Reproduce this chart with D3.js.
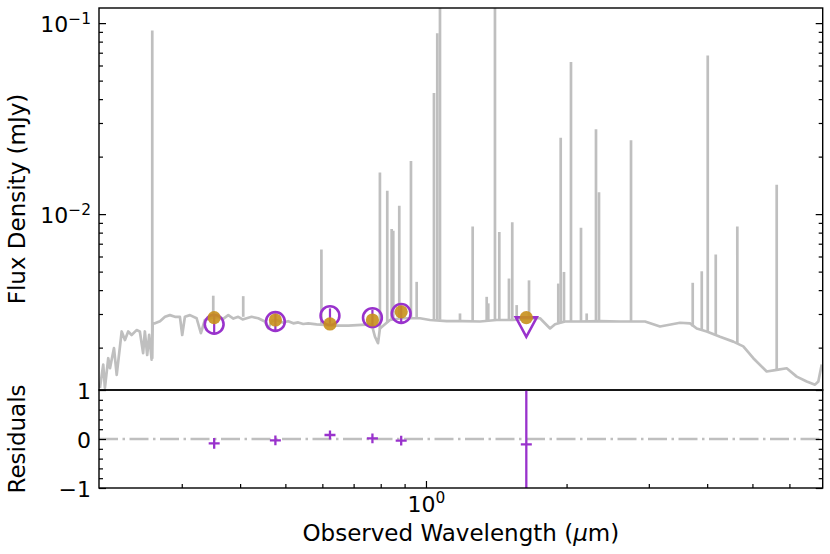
<!DOCTYPE html>
<html>
<head>
<meta charset="utf-8">
<script src="https://cdnjs.cloudflare.com/ajax/libs/d3/7.8.5/d3.min.js"></script>
<style>
body { margin: 0; background: #fff; }
svg text { font-family: "DejaVu Sans", sans-serif; fill: #000; }
</style>
</head>
<body>
<div id="sed-chart"></div>
<script>
// model spectrum continuum, wavelength (um) and flux (mJy)
var contWave = [0.2004, 0.2037, 0.2054, 0.2088, 0.2106, 0.2148, 0.2177, 0.2231, 0.2267, 0.2304,
	0.2343, 0.2401, 0.2440, 0.2480, 0.2501, 0.2530, 0.2555, 0.2586, 0.2600, 0.2629,
	0.2695, 0.2762, 0.2830, 0.2901, 0.2973, 0.3007, 0.3047, 0.3124, 0.3228, 0.3297,
	0.3362, 0.3470, 0.3590, 0.3680, 0.3773, 0.3870, 0.3963, 0.4050, 0.4131, 0.4234,
	0.4374, 0.4520, 0.4595, 0.4680, 0.4790, 0.4930, 0.5072, 0.5200, 0.5327, 0.5460,
	0.5597, 0.5833, 0.6076, 0.6383, 0.6820, 0.7284, 0.7651, 0.7777, 0.7895, 0.7969,
	0.8374, 0.8839, 0.9379, 0.9708, 1.0199, 1.1074, 1.2002, 1.3051, 1.4170, 1.5360,
	1.7262, 1.7545, 1.8437, 1.8896, 1.9852, 2.1372, 2.3588, 2.6029, 2.9444, 3.1700,
	3.4994, 3.6761, 3.7996, 3.9918, 4.2617, 4.5500, 4.7797, 5.0216, 5.3642, 5.6355,
	5.9206, 6.2199, 6.5345, 6.8074, 6.9190, 7.0360];
var contFlux = [0.00123, 0.00163, 0.00123, 0.00176, 0.00156, 0.00199, 0.00144, 0.00243, 0.00219, 0.00243,
	0.00233, 0.00247, 0.00243, 0.00187, 0.00243, 0.00183, 0.00233, 0.00173, 0.00268, 0.00268,
	0.00275, 0.00290, 0.00296, 0.00290, 0.00290, 0.00233, 0.00290, 0.00296, 0.00285, 0.00238,
	0.00279, 0.00286, 0.00290, 0.00283, 0.00296, 0.00284, 0.00290, 0.00281, 0.00285, 0.00290,
	0.00285, 0.00274, 0.00252, 0.00276, 0.00279, 0.00271, 0.00275, 0.00268, 0.00271, 0.00266,
	0.00268, 0.00265, 0.00263, 0.00261, 0.00261, 0.00263, 0.00265, 0.00228, 0.00211, 0.00252,
	0.00279, 0.00285, 0.00285, 0.00285, 0.00279, 0.00275, 0.00275, 0.00274, 0.00279, 0.00279,
	0.00285, 0.00285, 0.00252, 0.00265, 0.00274, 0.00274, 0.00275, 0.00274, 0.00274, 0.00258,
	0.00270, 0.00268, 0.00252, 0.00243, 0.00228, 0.00215, 0.00203, 0.00176, 0.00150, 0.00153,
	0.00156, 0.00141, 0.00133, 0.00128, 0.00133, 0.00163];

// emission lines of the model spectrum
var lineWave = [0.2594, 0.3504, 0.4062, 0.5972, 0.7969, 0.8263, 0.8444, 0.8511, 0.8767, 0.9287,
	0.9552, 1.0402, 1.0573, 1.0715, 1.1826, 1.2589, 1.3490, 1.3597, 1.4051, 1.4355,
	1.5055, 1.5302, 1.5640, 1.6620, 1.9200, 1.9429, 1.9746, 2.0440, 2.1474, 2.2086,
	2.3122, 2.3466, 2.7480, 3.7250, 3.8946, 4.0113, 4.1727, 4.6411, 5.6355];
var linePeak = [0.0914, 0.00374, 0.00372, 0.00653, 0.0165, 0.01326, 0.00837, 0.00818, 0.01107, 0.0190,
	0.00442, 0.0431, 0.0886, 0.25, 0.00302, 0.00861, 0.00369, 0.00341, 0.25, 0.00805,
	0.0046, 0.00908, 0.00334, 0.0045, 0.00433, 0.0251, 0.00498, 0.0626, 0.00848, 0.00302,
	0.0278, 0.0130, 0.0244, 0.00437, 0.00502, 0.0677, 0.00615, 0.00861, 0.01424];
var lineBase = [0.00175, 0.0029, 0.0029, 0.00263, 0.0025, 0.0027, 0.0028, 0.0028, 0.00285, 0.00285,
	0.00285, 0.0028, 0.0028, 0.0028, 0.00275, 0.00275, 0.00275, 0.00275, 0.00278, 0.00278,
	0.00279, 0.00279, 0.0028, 0.0028, 0.0027, 0.0027, 0.00274, 0.00274, 0.00274, 0.00274,
	0.00275, 0.00275, 0.00274, 0.00258, 0.00245, 0.00243, 0.00235, 0.0021, 0.00153];

// observed photometry
var photWave = [0.352, 0.476, 0.623, 0.768, 0.885];
var photFlux = [0.00265, 0.00274, 0.00294, 0.00287, 0.00302];
var photErr = [0.00028, 0.00028, 0.00027, 0.00029, 0.00030];

// upper limit
var limitWave = [1.64];
var limitFlux = [0.00257];

// model photometry
var modelWave = [0.352, 0.476, 0.623, 0.768, 0.885, 1.64];
var modelFlux = [0.00287, 0.00279, 0.00266, 0.00279, 0.00308, 0.00287];

// residuals
var residVal = [-0.088, -0.027, 0.082, 0.014, -0.035, -0.108];
var residErr = [0.11, 0.10, 0.09, 0.10, 0.10, 5];

// ticks
var xMajor = [1];
var xMajorExp = ["0"];
var xMinor = [0.3, 0.4, 0.5, 0.6, 0.7, 0.8, 0.9, 2, 3, 4, 5, 6];
var yMajor = [0.01, 0.1];
var yMajorExp = ["\u22122", "\u22121"];
var yMinor = [0.002, 0.003, 0.004, 0.005, 0.006, 0.007, 0.008, 0.009,
	0.02, 0.03, 0.04, 0.05, 0.06, 0.07, 0.08, 0.09];
var rMajor = [-1, 0, 1];
var rMajorLabels = ["\u22121", "0", "1"];
var rMinor = [-0.8, -0.6, -0.4, -0.2, 0.2, 0.4, 0.6, 0.8];

// colours
var specColor = "#bfbfbf";
var obsColor = "#9932cc";
var modelColor = "#c8901c";

// size
var margin = { left: 99, top: 8 };
var width = 723.7;
var topHeight = 382;
var resHeight = 98;
var tickFont = 22;

var svg = d3.select("#sed-chart")
	.append("svg")
	.attr("width", 830)
	.attr("height", 554);

var defs = svg.append("defs");
defs.append("clipPath").attr("id", "clip-top")
	.append("rect").attr("width", width).attr("height", topHeight);
defs.append("clipPath").attr("id", "clip-res")
	.append("rect").attr("width", width).attr("height", resHeight);

// scales
var x = d3.scaleLog()
	.domain([0.1995, 7.07])
	.range([0, width]);

var y = d3.scaleLog()
	.domain([0.0012, 0.12])
	.range([topHeight, 0]);

var yRes = d3.scaleLinear()
	.domain([-1, 1])
	.range([resHeight, 0]);

// top panel
var gTop = svg.append("g")
	.attr("transform", "translate(" + margin.left + "," + margin.top + ")");

var plotTop = gTop.append("g").attr("clip-path", "url(#clip-top)");

var spec = contWave.map(function(d, i){ return [d, contFlux[i]]; });

plotTop.append("path")
	.datum(spec)
	.attr("fill", "none")
	.attr("stroke", specColor)
	.attr("stroke-width", 2.7)
	.attr("stroke-linejoin", "round")
	.attr("d", d3.line()
		.x(function(d){ return x(d[0]); })
		.y(function(d){ return y(d[1]); }));

plotTop.selectAll(".eline")
	.data(lineWave)
	.enter()
	.append("line")
		.attr("class", "eline")
		.attr("x1", function(d){ return x(d); })
		.attr("x2", function(d){ return x(d); })
		.attr("y1", function(d, i){ return y(lineBase[i]); })
		.attr("y2", function(d, i){ return y(linePeak[i]); })
		.attr("stroke", specColor)
		.attr("stroke-width", 2.7);

// observed error bars and circles
plotTop.selectAll(".obs-err")
	.data(photWave)
	.enter()
	.append("line")
		.attr("class", "obs-err")
		.attr("x1", function(d){ return x(d); })
		.attr("x2", function(d){ return x(d); })
		.attr("y1", function(d, i){ return y(photFlux[i] - photErr[i]); })
		.attr("y2", function(d, i){ return y(photFlux[i] + photErr[i]); })
		.attr("stroke", obsColor)
		.attr("stroke-width", 2.2);

plotTop.selectAll(".obs")
	.data(photWave)
	.enter()
	.append("circle")
		.attr("class", "obs")
		.attr("cx", function(d){ return x(d); })
		.attr("cy", function(d, i){ return y(photFlux[i]); })
		.attr("r", 9.4)
		.attr("fill", "none")
		.attr("stroke", obsColor)
		.attr("stroke-width", 2.6);

plotTop.selectAll(".limit")
	.data(limitWave)
	.enter()
	.append("path")
		.attr("class", "limit")
		.attr("transform", function(d, i){
			return "translate(" + x(d) + "," + y(limitFlux[i]) + ")";
		})
		.attr("d", "M-10.5,-9.5L10.5,-9.5L0,10Z")
		.attr("fill", "none")
		.attr("stroke", obsColor)
		.attr("stroke-width", 2.6)
		.attr("stroke-linejoin", "miter");

// model photometry
plotTop.selectAll(".model")
	.data(modelWave)
	.enter()
	.append("circle")
		.attr("class", "model")
		.attr("cx", function(d){ return x(d); })
		.attr("cy", function(d, i){ return y(modelFlux[i]); })
		.attr("r", 6.6)
		.attr("fill", modelColor)
		.attr("fill-opacity", 0.9);

// residual panel
var gRes = svg.append("g")
	.attr("transform", "translate(" + margin.left + "," + (margin.top + topHeight) + ")");

var plotRes = gRes.append("g").attr("clip-path", "url(#clip-res)");

plotRes.append("line")
	.attr("x1", 0)
	.attr("x2", width)
	.attr("y1", yRes(0))
	.attr("y2", yRes(0))
	.attr("stroke", specColor)
	.attr("stroke-width", 2.6)
	.attr("stroke-dasharray", "19,4.5,2.5,4.5");

plotRes.selectAll(".res-err")
	.data(modelWave)
	.enter()
	.append("line")
		.attr("class", "res-err")
		.attr("x1", function(d){ return x(d); })
		.attr("x2", function(d){ return x(d); })
		.attr("y1", function(d, i){ return yRes(residVal[i] - residErr[i]); })
		.attr("y2", function(d, i){ return yRes(residVal[i] + residErr[i]); })
		.attr("stroke", obsColor)
		.attr("stroke-width", 2.3);

plotRes.selectAll(".res")
	.data(modelWave)
	.enter()
	.append("line")
		.attr("class", "res")
		.attr("x1", function(d){ return x(d) - 5.5; })
		.attr("x2", function(d){ return x(d) + 5.5; })
		.attr("y1", function(d, i){ return yRes(residVal[i]); })
		.attr("y2", function(d, i){ return yRes(residVal[i]); })
		.attr("stroke", obsColor)
		.attr("stroke-width", 2.3);

// axes
function styleAxis(sel){
	sel.select(".domain").remove();
	sel.selectAll(".tick line").attr("stroke", "#000").attr("stroke-width", 1.2);
	sel.selectAll("text").attr("font-size", tickFont + "px").attr("fill", "#000");
}

function supLabels(sel, exps){
	sel.selectAll(".tick text").each(function(d, i){
		var t = d3.select(this);
		t.text(null);
		t.append("tspan").text("10");
		t.append("tspan").attr("dy", "-0.55em").attr("font-size", (tickFont * 0.7) + "px").text(exps[i]);
	});
}

// top panel y axes
gTop.append("g")
	.call(d3.axisLeft(y).tickValues(yMajor).tickSize(-7).tickPadding(8).tickFormat(function(){ return ""; }))
	.call(styleAxis)
	.call(supLabels, yMajorExp)
	.selectAll(".tick text").attr("dy", "0.38em");

gTop.append("g")
	.call(d3.axisLeft(y).tickValues(yMinor).tickSize(-4).tickFormat(""))
	.call(styleAxis);

gTop.append("g")
	.attr("transform", "translate(" + width + ",0)")
	.call(d3.axisRight(y).tickValues(yMajor).tickSize(-7).tickFormat(""))
	.call(styleAxis);

gTop.append("g")
	.attr("transform", "translate(" + width + ",0)")
	.call(d3.axisRight(y).tickValues(yMinor).tickSize(-4).tickFormat(""))
	.call(styleAxis);

// residual y axes
gRes.append("g")
	.call(d3.axisLeft(yRes).tickValues(rMajor).tickSize(-7).tickPadding(8)
		.tickFormat(function(d, i){ return rMajorLabels[i]; }))
	.call(styleAxis)
	.selectAll(".tick text").attr("dy", "0.38em");

gRes.append("g")
	.call(d3.axisLeft(yRes).tickValues(rMinor).tickSize(-4).tickFormat(""))
	.call(styleAxis);

gRes.append("g")
	.attr("transform", "translate(" + width + ",0)")
	.call(d3.axisRight(yRes).tickValues(rMajor).tickSize(-7).tickFormat(""))
	.call(styleAxis);

gRes.append("g")
	.attr("transform", "translate(" + width + ",0)")
	.call(d3.axisRight(yRes).tickValues(rMinor).tickSize(-4).tickFormat(""))
	.call(styleAxis);

// x axis
gRes.append("g")
	.attr("transform", "translate(0," + resHeight + ")")
	.call(d3.axisBottom(x).tickValues(xMajor).tickSize(-7).tickPadding(8).tickFormat(function(){ return ""; }))
	.call(styleAxis)
	.call(supLabels, xMajorExp);

gRes.append("g")
	.attr("transform", "translate(0," + resHeight + ")")
	.call(d3.axisBottom(x).tickValues(xMinor).tickSize(-4).tickFormat(""))
	.call(styleAxis);

// frames
gTop.append("rect")
	.attr("width", width).attr("height", topHeight)
	.attr("fill", "none").attr("stroke", "#000").attr("stroke-width", 1.4);
gRes.append("rect")
	.attr("width", width).attr("height", resHeight)
	.attr("fill", "none").attr("stroke", "#000").attr("stroke-width", 1.4);

// axis labels
svg.append("text")
	.attr("transform", "translate(25," + (margin.top + topHeight / 2) + ") rotate(-90)")
	.attr("text-anchor", "middle")
	.attr("font-size", "23px")
	.text("Flux Density (mJy)");

svg.append("text")
	.attr("transform", "translate(25," + (margin.top + topHeight + resHeight / 2) + ") rotate(-90)")
	.attr("text-anchor", "middle")
	.attr("font-size", "23px")
	.text("Residuals");

var xlab = svg.append("text")
	.attr("x", margin.left + width / 2)
	.attr("y", 541)
	.attr("text-anchor", "middle")
	.attr("font-size", "23px");
xlab.append("tspan").text("Observed Wavelength (");
xlab.append("tspan").attr("font-style", "italic").text("\u03bc");
xlab.append("tspan").text("m)");
</script>
</body>
</html>
